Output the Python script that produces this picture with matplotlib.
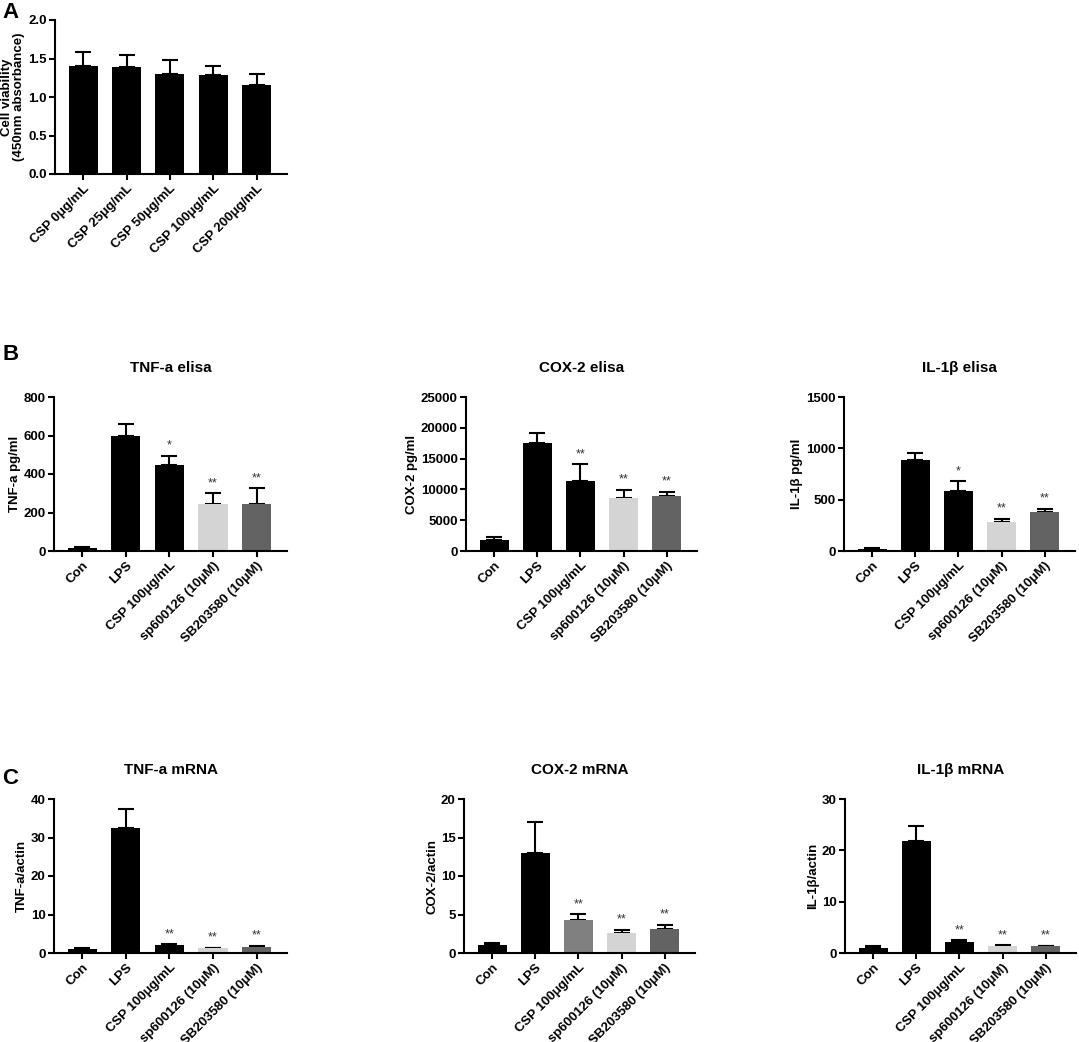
import matplotlib
matplotlib.use("Agg")
import matplotlib.pyplot as plt

plt.rcParams["font.family"] = ["Liberation Sans", "DejaVu Sans"]
plt.rcParams["font.weight"] = "bold"

# ── Data ─────────────────────────────────────────────────────────────────────
viab_labels = ["CSP 0μg/mL", "CSP 25μg/mL", "CSP 50μg/mL", "CSP 100μg/mL", "CSP 200μg/mL"]
viab_mean = [1.40, 1.39, 1.30, 1.28, 1.16]
viab_err = [0.19, 0.16, 0.18, 0.12, 0.14]

groups = ["Con", "LPS", "CSP 100μg/mL", "sp600126 (10μM)", "SB203580 (10μM)"]

tnf_elisa_mean = [15, 600, 445, 245, 245]
tnf_elisa_err = [8, 60, 50, 55, 80]
cox_elisa_mean = [1800, 17600, 11300, 8600, 9000]
cox_elisa_err = [500, 1600, 2800, 1300, 600]
il_elisa_mean = [20, 883, 581, 282, 380]
il_elisa_err = [12, 75, 98, 30, 32]

tnf_mrna_mean = [1.0, 32.4, 2.0, 1.2, 1.5]
tnf_mrna_err = [0.25, 5.1, 0.3, 0.2, 0.3]
cox_mrna_mean = [1.0, 13.05, 4.3, 2.6, 3.1]
cox_mrna_err = [0.28, 4.0, 0.75, 0.4, 0.55]
il_mrna_mean = [1.0, 21.8, 2.05, 1.3, 1.3]
il_mrna_err = [0.3, 2.9, 0.45, 0.2, 0.15]

stars_single = ["", "", "*", "**", "**"]
stars_double = ["", "", "**", "**", "**"]

W, H = 1079, 1042
fig = plt.figure(figsize=(W / 100, H / 100), dpi=100)


def add_ax(x0, y0, x1, y1):
    return fig.add_axes([x0 / W, 1 - y1 / H, (x1 - x0) / W, (y1 - y0) / H])


def bar_panel(ax, labels, mean, err, colors, ymax, yticks, ylabel,
              title=None, stars=None, fmt="{:g}"):
    x = list(range(len(mean)))
    ax.errorbar(x, mean, yerr=[[0] * len(err), err], fmt="none", ecolor="black",
                elinewidth=1.5, capsize=5.5, capthick=1.5, zorder=1)
    ax.bar(x, mean, width=0.67, color=colors, edgecolor="none", zorder=2)
    ax.set_xlim(-0.65, len(mean) - 0.3)
    ax.set_ylim(0, ymax)
    ax.set_yticks(yticks)
    ax.set_yticklabels([fmt.format(t) for t in yticks], fontsize=9.5, fontweight="bold")
    ax.set_xticks(x)
    ax.set_xticklabels(labels, rotation=45, ha="right", rotation_mode="anchor",
                       fontsize=9.5, fontweight="bold")
    for s in ["top", "right"]:
        ax.spines[s].set_visible(False)
    for s in ["left", "bottom"]:
        ax.spines[s].set_linewidth(1.5)
    ax.tick_params(axis="both", width=1.5, length=4, pad=2)
    ax.set_ylabel(ylabel, fontsize=9.5, fontweight="bold", labelpad=2,
                  linespacing=1.05)
    if title:
        ax.set_title(title, fontsize=11, fontweight="bold", pad=18)
    if stars:
        for i, s in enumerate(stars):
            if s:
                ax.annotate(s, (i, mean[i] + err[i]), xytext=(0, 3),
                            textcoords="offset points", ha="center", va="bottom",
                            fontsize=9, fontweight="normal", color="#333333")


elisa_colors = ["black", "black", "black", "#d4d4d4", "#636363"]
cox_mrna_colors = ["black", "black", "#808080", "#d4d4d4", "#636363"]

# ── Panel A ──────────────────────────────────────────────────────────────────
ax = add_ax(55, 20, 287, 174)
bar_panel(ax, viab_labels, viab_mean, viab_err, ["black"] * 5, 2.0,
          [0.0, 0.5, 1.0, 1.5, 2.0], "Cell viability\n(450nm absorbance)",
          fmt="{:.1f}")

# ── Panel B ──────────────────────────────────────────────────────────────────
ax = add_ax(54, 397, 287, 551)
bar_panel(ax, groups, tnf_elisa_mean, tnf_elisa_err, elisa_colors, 800,
          [0, 200, 400, 600, 800], "TNF-a pg/ml", "TNF-a elisa", stars_single)
ax = add_ax(466, 397, 697, 551)
bar_panel(ax, groups, cox_elisa_mean, cox_elisa_err, elisa_colors, 25000,
          [0, 5000, 10000, 15000, 20000, 25000], "COX-2 pg/ml", "COX-2 elisa",
          stars_double)
ax = add_ax(844, 397, 1075, 551)
bar_panel(ax, groups, il_elisa_mean, il_elisa_err, elisa_colors, 1500,
          [0, 500, 1000, 1500], "IL-1β pg/ml", "IL-1β elisa", stars_single)

# ── Panel C ──────────────────────────────────────────────────────────────────
ax = add_ax(54, 799, 287, 953)
bar_panel(ax, groups, tnf_mrna_mean, tnf_mrna_err, elisa_colors, 40,
          [0, 10, 20, 30, 40], "TNF-a/actin", "TNF-a mRNA", stars_double)
ax = add_ax(464, 799, 695, 953)
bar_panel(ax, groups, cox_mrna_mean, cox_mrna_err, cox_mrna_colors, 20,
          [0, 5, 10, 15, 20], "COX-2/actin", "COX-2 mRNA", stars_double)
ax = add_ax(845, 799, 1076, 953)
bar_panel(ax, groups, il_mrna_mean, il_mrna_err, elisa_colors, 30,
          [0, 10, 20, 30], "IL-1β/actin", "IL-1β mRNA", stars_double)

# ── Panel letters ────────────────────────────────────────────────────────────
for letter, px, py in [("A", 2, 12), ("B", 2, 355), ("C", 2, 779)]:
    fig.text(px / W, 1 - py / H, letter, fontsize=16, fontweight="bold",
             ha="left", va="center")

fig.savefig("out.png", dpi=100)
